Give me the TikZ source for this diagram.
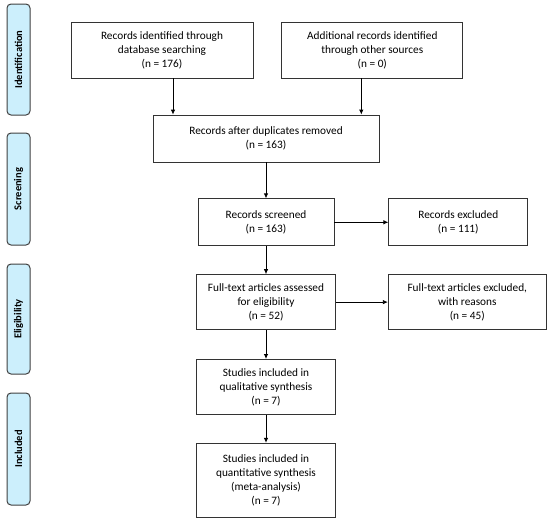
\documentclass[tikz,border=0pt]{standalone}
\usepackage{fontspec}
\setmainfont{Carlito}
\usetikzlibrary{positioning,arrows.meta}

\begin{document}
\begin{tikzpicture}[
			x=1pt, y=-1pt,
			>={Latex[length=5pt,width=4.5pt]},
			box/.style={
				draw=black!80,
				line width=0.8pt,
				inner sep=2pt,
				align=center,
				font=\fontsize{11.3}{14}\selectfont
			},
			phase/.style={
				draw=black!75,
				fill=cyan!20!white,
				line width=1pt,
				rounded corners=4pt,
				rotate=90,
				minimum height=23pt,
				inner sep=0pt,
				font=\bfseries\fontsize{10.5}{12}\selectfont
			}
			]
			
			\useasboundingbox (0,0) rectangle (550,520);
			
			%%%%%%%%%%%%%%%%%%%%%%%%%%%%%%%%%%%%%%%%%%%%%%%%%%%%%%%%%%%%
			% Phases
			%%%%%%%%%%%%%%%%%%%%%%%%%%%%%%%%%%%%%%%%%%%%%%%%%%%%%%%%%%%%
			
			\node (ident) [phase, minimum width=111pt] at (18.5,59.5) {Identification};
			
			\node (screen) [phase, minimum width=112pt] at (18.5,189) {Screening};
			
			\node (elig) [phase, minimum width=110pt] at (18.5,319) {Eligibility};
			
			\node (incl) [phase, minimum width=112pt] at (18.5,449) {Included};
			
			%%%%%%%%%%%%%%%%%%%%%%%%%%%%%%%%%%%%%%%%%%%%%%%%%%%%%%%%%%%%
			% Identification
			%%%%%%%%%%%%%%%%%%%%%%%%%%%%%%%%%%%%%%%%%%%%%%%%%%%%%%%%%%%%
			
			\node (db) [box, minimum width=182pt, minimum height=56pt] at (162,50)
			{Records identified through\\database searching\\(n = 176)};
			
			\node (other) [box, minimum width=181pt, minimum height=56pt, right=28pt of db]
			{Additional records identified\\through other sources\\(n = 0)};
			
			%%%%%%%%%%%%%%%%%%%%%%%%%%%%%%%%%%%%%%%%%%%%%%%%%%%%%%%%%%%%
			% Screening
			%%%%%%%%%%%%%%%%%%%%%%%%%%%%%%%%%%%%%%%%%%%%%%%%%%%%%%%%%%%%
			
			\node (dup) [box, minimum width=226pt, minimum height=47pt] at (266,138.5)
			{Records after duplicates removed\\(n = 163)};
			
			\node (screened) [box, minimum width=136pt, minimum height=47pt, below=36pt of dup]
			{Records screened\\(n = 163)};
			
			\node (excluded) [box, minimum width=139pt, minimum height=47pt, right=54pt of screened]
			{Records excluded\\(n = 111)};
			
			%%%%%%%%%%%%%%%%%%%%%%%%%%%%%%%%%%%%%%%%%%%%%%%%%%%%%%%%%%%%
			% Eligibility
			%%%%%%%%%%%%%%%%%%%%%%%%%%%%%%%%%%%%%%%%%%%%%%%%%%%%%%%%%%%%
			
			\node (fulltext) [box, minimum width=139pt, minimum height=55pt, below=28pt of screened]
			{Full-text articles assessed\\for eligibility\\(n = 52)};
			
			\node (ftexcl) [box, minimum width=158pt, minimum height=55pt, right=52pt of fulltext]
			{Full-text articles excluded,\\with reasons\\(n = 45)};
			
			%%%%%%%%%%%%%%%%%%%%%%%%%%%%%%%%%%%%%%%%%%%%%%%%%%%%%%%%%%%%
			% Included
			%%%%%%%%%%%%%%%%%%%%%%%%%%%%%%%%%%%%%%%%%%%%%%%%%%%%%%%%%%%%
			
			\node (qual) [box, minimum width=139pt, minimum height=55pt, below=29pt of fulltext]
			{Studies included in\\qualitative synthesis\\(n = 7)};
			
			\node (quant) [box, minimum width=139pt, minimum height=74pt, below=28pt of qual]
			{Studies included in\\quantitative synthesis\\(meta-analysis)\\(n = 7)};
			
			%%%%%%%%%%%%%%%%%%%%%%%%%%%%%%%%%%%%%%%%%%%%%%%%%%%%%%%%%%%%
			% Connections
			%%%%%%%%%%%%%%%%%%%%%%%%%%%%%%%%%%%%%%%%%%%%%%%%%%%%%%%%%%%%
			
			\draw[->,thick] ([xshift=11pt]db.south) -- ([xshift=11pt]db.south |- dup.north);
			
			\draw[->,thick] ([xshift=-11pt]other.south) -- ([xshift=-11pt]other.south |- dup.north);
			
			\draw[->,thick] (dup) -- (screened);
			
			\draw[->,thick] (screened) -- (excluded);
			
			\draw[->,thick] (screened) -- (fulltext);
			
			\draw[->,thick] (fulltext) -- (ftexcl);
			
			\draw[->,thick] (fulltext) -- (qual);
			
			\draw[->,thick] (qual) -- (quant);
			
		\end{tikzpicture}
\end{document}
